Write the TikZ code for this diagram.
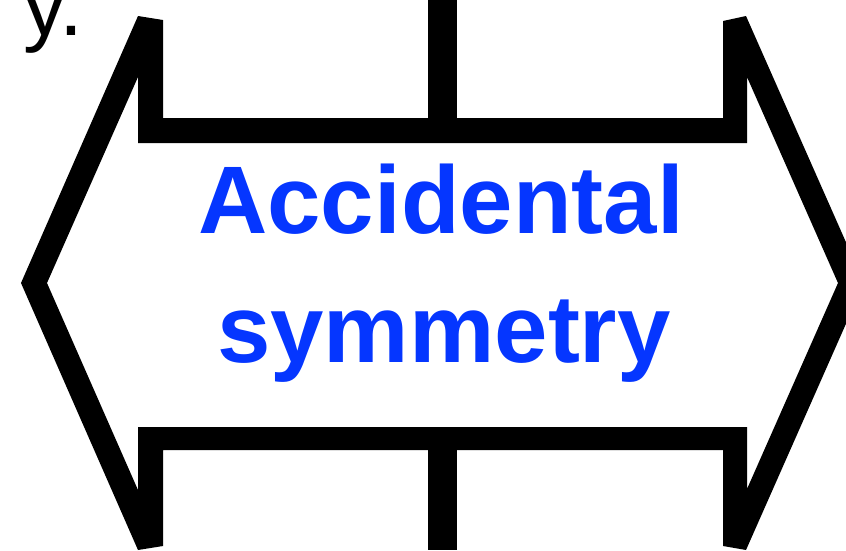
\documentclass[tikz,border=0pt]{standalone}
\usepackage{fontspec}
\setmainfont{Liberation Sans}
\definecolor{labelblue}{HTML}{0536FF}
\tikzset{
  ring/.style={fill=black, even odd rule},
  stem/.style={fill=black},
  label/.style={text=labelblue, font=\fontsize{96}{96}\selectfont\bfseries, inner sep=0pt, anchor=base},
  prose/.style={text=black, font=\fontsize{86}{86}\selectfont, inner sep=0pt, anchor=base east}
}
\begin{document}
\begin{tikzpicture}[x=1pt,y=-1pt]
\useasboundingbox (0,0) rectangle (846,550);
\clip (0,0) rectangle (846,550);
% double arrow outline (outer and inner boundaries)
\fill[ring]
  (138,16) -- (163,20) -- (163,118) -- (723,118) -- (723,21) -- (746,16)
  -- (864,283) -- (746,550) -- (723,546) -- (723,450) -- (163,450)
  -- (163,546) -- (138,550) -- (21,283) -- cycle
  (138,77) -- (138,143) -- (747,143) -- (747,77) -- (838,283)
  -- (747,489) -- (747,427) -- (138,427) -- (138,490) -- (47,283) -- cycle;
% vertical stems to the outside
\fill[stem] (428,0) rectangle (457,119);
\fill[stem] (428,449) rectangle (457,550);
% texts
\node[label] (l1) at (441,233) {Accidental};
\node[label] (l2) at (444,362) {symmetry};
\node[prose] (y) at (84,35) {y.};
\end{tikzpicture}
\end{document}
